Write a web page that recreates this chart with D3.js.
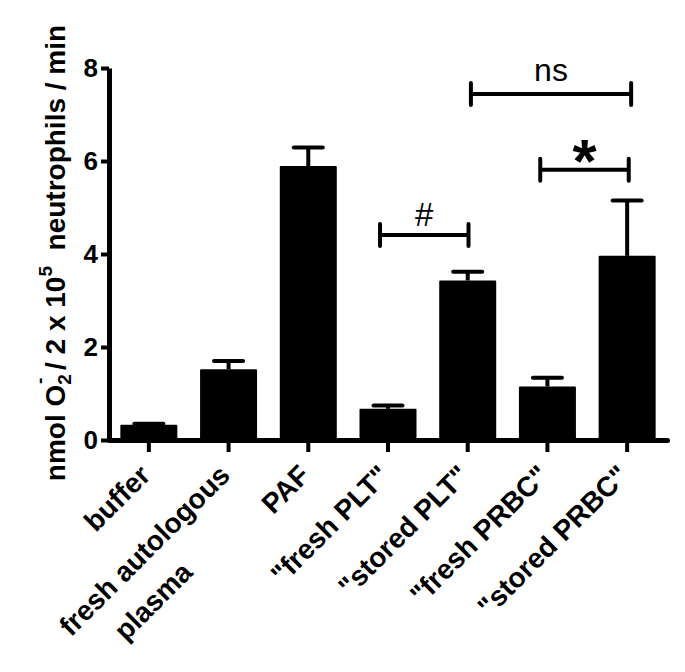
<!DOCTYPE html>
<html>
<head>
<meta charset="utf-8">
<script src="https://cdn.jsdelivr.net/npm/d3@7"></script>
<style>
  body { margin: 0; background: #fff; }
  svg { display: block; font-family: "Liberation Sans", Arial, sans-serif; font-weight: bold; }
</style>
</head>
<body>
<svg></svg>
<script>
// chart values
var categories = ['buffer', 'fresh autologous plasma', 'PAF', '"fresh PLT"', '"stored PLT"', '"fresh PRBC"', '"stored PRBC"']
var labelLines = [['buffer'], ['fresh autologous', 'plasma'], ['PAF'], ['"fresh PLT"'], ['"stored PLT"'], ['"fresh PRBC"'], ['"stored PRBC"']]
var means = [0.33, 1.52, 5.89, 0.67, 3.43, 1.15, 3.96]
var errors = [0.02, 0.18, 0.40, 0.07, 0.19, 0.19, 1.19]
var yTicks = [0, 2, 4, 6, 8]
var bracketLabels = ['#', 'ns', '*']
var bracketFrom = [2.9, 4.04, 4.91]
var bracketTo = [4.01, 6.05, 6.02]
var bracketLevel = [4.41, 7.44, 5.81]

document.addEventListener("DOMContentLoaded", function(event) {
    drawChart()
});

function drawChart() {
    var svgWidth = 685, svgHeight = 672;
    var margin = { top: 68, right: 18, bottom: 232, left: 109 };
    var width = svgWidth - margin.left - margin.right;
    var height = svgHeight - margin.top - margin.bottom;
    var svg = d3.select('svg')
        .attr("width", svgWidth)
        .attr("height", svgHeight);

    var g = svg.append("g")
        .attr("transform", "translate(" + margin.left + "," + margin.top + ")");

    var x = d3.scaleBand()
        .domain(categories)
        .range([0, width])
        .paddingInner(0.285)
        .paddingOuter(0.1425);
    var y = d3.scaleLinear().domain([0, 8]).range([height, 0]);
    // index scale for the comparison brackets
    var xi = d3.scaleLinear()
        .domain([0, categories.length - 1])
        .range([x(categories[0]) + x.bandwidth() / 2, x(categories[categories.length - 1]) + x.bandwidth() / 2]);

    // bars
    g.selectAll(".bar")
        .data(means)
        .enter().append("rect")
        .attr("class", "bar")
        .attr("x", function(d, i) { return x(categories[i]) + 1 })
        .attr("width", x.bandwidth() - 2)
        .attr("y", function(d) { return y(d) + 1 })
        .attr("height", function(d) { return height - y(d) - 1 })
        .attr("fill", "#000")
        .attr("stroke", "#000")
        .attr("stroke-width", 2)
        .attr("stroke-linejoin", "round");

    // error bars (upper only)
    var capW = 29;
    means.forEach(function(m, i) {
        var cx = x(categories[i]) + x.bandwidth() / 2;
        if (errors[i] > 0.05) {
            g.append("line")
                .attr("x1", cx).attr("x2", cx)
                .attr("y1", y(m)).attr("y2", y(m + errors[i]))
                .attr("stroke", "#000").attr("stroke-width", 4);
        }
        g.append("line")
            .attr("x1", cx - capW / 2).attr("x2", cx + capW / 2)
            .attr("y1", y(m + errors[i])).attr("y2", y(m + errors[i]))
            .attr("stroke", "#000").attr("stroke-width", 4)
            .attr("stroke-linecap", "round");
    });

    // Y axis
    var yAxis = g.append("g")
        .call(d3.axisLeft(y).tickValues(yTicks).tickSize(8).tickSizeOuter(0).tickPadding(3));
    yAxis.select(".domain").attr("stroke-width", 5).attr("stroke-linejoin", "round");
    yAxis.selectAll(".tick line").attr("stroke-width", 4);
    yAxis.selectAll(".tick text")
        .attr("font-size", "26px")
        .attr("font-weight", "bold")
        .attr("font-family", "Liberation Sans, Arial, sans-serif")
        .attr("fill", "#000");

    // X axis
    var xAxis = g.append("g")
        .attr("transform", "translate(0," + height + ")")
        .call(d3.axisBottom(x).tickSize(12).tickSizeOuter(0).tickFormat(""));
    xAxis.select(".domain").attr("stroke-width", 5).attr("stroke-linecap", "round");
    xAxis.selectAll(".tick line").attr("stroke-width", 4);

    // rotated category labels
    labelLines.forEach(function(lines, i) {
        var cx = x(categories[i]) + x.bandwidth() / 2;
        var t = g.append("text")
            .attr("transform", "translate(" + (cx + 3) + "," + (height + 37) + ") rotate(-45)")
            .attr("text-anchor", "end")
            .attr("font-size", "28px")
            .attr("fill", "#000");
        lines.forEach(function(line, j) {
            t.append("tspan")
                .attr("x", j === 0 ? 0 : -95)
                .attr("dy", j === 0 ? 0 : 42)
                .text(line);
        });
    });

    // Y axis title
    var yt = svg.append("text")
        .attr("transform", "translate(65,253) rotate(-90)")
        .attr("text-anchor", "middle")
        .attr("font-size", "28px")
        .attr("fill", "#000")
        .style("white-space", "pre");
    yt.append("tspan").text("nmol O");
    yt.append("tspan").attr("font-size", "19px").attr("dy", 6).text("2");
    yt.append("tspan").attr("font-size", "19px").attr("dx", -10).attr("dy", -25).text("-");
    yt.append("tspan").attr("dy", 19).text(" / 2 x 10");
    yt.append("tspan").attr("font-size", "19px").attr("dy", -13).text("5");
    yt.append("tspan").attr("dy", 13).text("  neutrophils / min");

    // comparison brackets
    bracketLabels.forEach(function(lab, i) {
        var yy = y(bracketLevel[i]);
        var x1 = xi(bracketFrom[i]), x2 = xi(bracketTo[i]);
        var b = g.append("g").attr("stroke", "#000").attr("stroke-width", 4);
        b.append("line").attr("x1", x1).attr("x2", x2).attr("y1", yy).attr("y2", yy);
        b.append("line").attr("x1", x1).attr("x2", x1).attr("y1", yy - 11).attr("y2", yy + 11).attr("stroke-linecap", "round");
        b.append("line").attr("x1", x2).attr("x2", x2).attr("y1", yy - 11).attr("y2", yy + 11).attr("stroke-linecap", "round");
        var t = g.append("text")
            .attr("x", (x1 + x2) / 2)
            .attr("text-anchor", "middle")
            .attr("fill", "#000")
            .text(lab);
        if (lab === '*') {
            t.attr("y", yy + 12).attr("font-size", "62px").attr("font-weight", "bold");
        } else if (lab === 'ns') {
            t.attr("y", yy - 13).attr("font-size", "32px").attr("font-weight", "normal");
        } else {
            t.attr("y", yy - 9).attr("font-size", "33px").attr("font-weight", "normal");
        }
    });
}
</script>
</body>
</html>
